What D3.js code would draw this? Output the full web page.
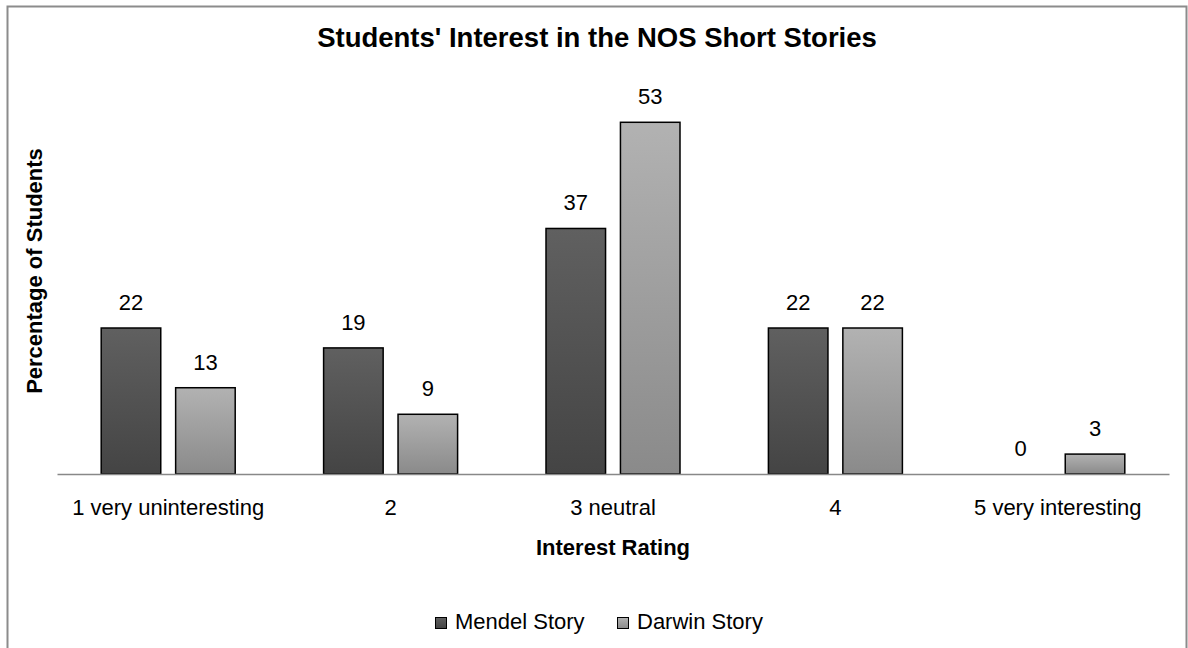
<!DOCTYPE html>
<html>
<head>
<meta charset="utf-8">
<script src="https://cdn.jsdelivr.net/npm/d3@7"></script>
<style>
  html, body { margin: 0; padding: 0; background: #fff; }
  svg { display: block; font-family: "Liberation Sans", Arial, sans-serif; }
</style>
</head>
<body>
<svg id="chart" width="1188" height="648"></svg>
<script>
// Interest ratings and the share of students (%) choosing each one
const categories = ["1 very uninteresting", "2", "3 neutral", "4", "5 very interesting"];
const seriesNames = ["Mendel Story", "Darwin Story"];
const mendelValues = [22, 19, 37, 22, 0];
const darwinValues = [13, 9, 53, 22, 3];

const svg = d3.select("#chart");
const W = 1188, H = 648;

// chart frame (open at the bottom edge)
svg.append("path")
  .attr("d", `M7.5,${H + 2} V6.5 H1186.5 V${H + 2}`)
  .attr("fill", "none").attr("stroke", "#8c8c8c").attr("stroke-width", 2);

const defs = svg.append("defs");
const gradients = [
  { id: "gMendel", top: "#606060", bottom: "#444444" },
  { id: "gDarwin", top: "#b2b2b2", bottom: "#8a8a8a" }
];
gradients.forEach(g => {
  const lg = defs.append("linearGradient").attr("id", g.id)
    .attr("x1", 0).attr("y1", 0).attr("x2", 0).attr("y2", 1);
  lg.append("stop").attr("offset", "0%").attr("stop-color", g.top);
  lg.append("stop").attr("offset", "100%").attr("stop-color", g.bottom);
});
const fills = ["url(#gMendel)", "url(#gDarwin)"];

const plot = { left: 57, right: 1169, top: 60, bottom: 474 };
const centerX = 597;
const groupWidth = 134;

const x0 = d3.scaleBand().domain(categories).range([plot.left, plot.right]).paddingInner(0).paddingOuter(0);
const x1 = d3.scaleBand().domain(seriesNames).range([0, groupWidth]).paddingInner(0.2);
const pxPerUnit = 6.636;
const y = d3.scaleLinear().domain([0, 60]).range([plot.bottom, plot.bottom - 60 * pxPerUnit]);

const data = categories.map((c, i) => ({
  cat: c,
  vals: [mendelValues[i], darwinValues[i]]
}));

const groups = svg.selectAll("g.cat").data(data).join("g")
  .attr("class", "cat")
  .attr("transform", d => `translate(${x0(d.cat) + (x0.bandwidth() - groupWidth) / 2},0)`);

groups.selectAll("rect").data(d => d.vals.map((v, j) => ({ v, j }))).join("rect")
  .filter(d => d.v > 0)
  .attr("x", d => x1(seriesNames[d.j]))
  .attr("y", d => y(d.v))
  .attr("width", x1.bandwidth())
  .attr("height", d => y(0) - y(d.v))
  .attr("fill", d => fills[d.j])
  .attr("stroke", "#000").attr("stroke-width", 1.5);

groups.selectAll("text.val").data(d => d.vals.map((v, j) => ({ v, j }))).join("text")
  .attr("class", "val")
  .attr("x", d => x1(seriesNames[d.j]) + x1.bandwidth() / 2)
  .attr("y", d => y(d.v) - 18)
  .attr("text-anchor", "middle")
  .attr("font-size", 22).attr("fill", "#000")
  .text(d => d.v);

// category axis
const xAxis = svg.append("g").attr("transform", `translate(0,${plot.bottom})`)
  .call(d3.axisBottom(x0).tickSize(0).tickPadding(0));
xAxis.select(".domain").attr("stroke", "#888").attr("stroke-width", 1.5);
xAxis.selectAll("text")
  .attr("dy", null).attr("y", 41)
  .attr("font-size", 22).attr("fill", "#000")
  .attr("font-family", "Liberation Sans, Arial, sans-serif");

// titles
svg.append("text").attr("x", centerX).attr("y", 47)
  .attr("text-anchor", "middle").attr("font-size", 27.5).attr("font-weight", "bold")
  .text("Students' Interest in the NOS Short Stories");

svg.append("text").attr("x", (plot.left + plot.right) / 2).attr("y", 555)
  .attr("text-anchor", "middle").attr("font-size", 22).attr("font-weight", "bold")
  .text("Interest Rating");

svg.append("text")
  .attr("transform", `translate(42,271) rotate(-90)`)
  .attr("text-anchor", "middle").attr("font-size", 22).attr("font-weight", "bold")
  .text("Percentage of Students");

// legend
const legendItems = [{ name: seriesNames[0], x: 435 }, { name: seriesNames[1], x: 617 }];
const lg = svg.append("g");
legendItems.forEach((it, j) => {
  lg.append("rect").attr("x", it.x + 0.5).attr("y", 617.5).attr("width", 11).attr("height", 11)
    .attr("fill", fills[j]).attr("stroke", "#000").attr("stroke-width", 1);
  lg.append("text").attr("x", it.x + 20).attr("y", 629)
    .attr("font-size", 22).text(it.name);
});
</script>
</body>
</html>
